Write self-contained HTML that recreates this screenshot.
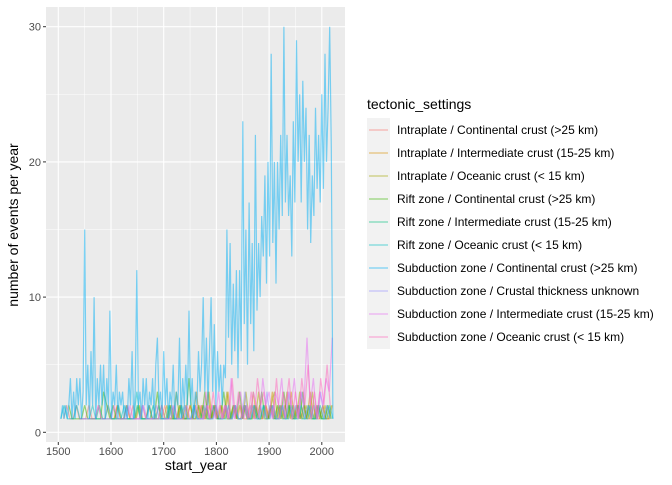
<!DOCTYPE html>
<html><head><meta charset="utf-8"><style>
body{margin:0;background:#fff;font-family:"Liberation Sans",sans-serif}
svg text{font-family:"Liberation Sans",sans-serif}
</style></head><body>
<svg id="chart" width="672" height="480" viewBox="0 0 672 480" xmlns="http://www.w3.org/2000/svg">
<rect x="46" y="7" width="299" height="435" fill="#ebebeb"/>
<g id="grid"></g><g id="series"></g><g id="axes"></g><g id="legend"></g>
</svg>
<script>
const NS="http://www.w3.org/2000/svg";
const xTicks=[1500,1600,1700,1800,1900,2000];
const yTicks=[0,10,20,30];
const seriesNames=["Intraplate / Continental crust (>25 km)","Intraplate / Intermediate crust (15-25 km)","Intraplate / Oceanic crust (< 15 km)","Rift zone / Continental crust (>25 km)","Rift zone / Intermediate crust (15-25 km)","Rift zone / Oceanic crust (< 15 km)","Subduction zone / Continental crust (>25 km)","Subduction zone / Crustal thickness unknown","Subduction zone / Intermediate crust (15-25 km)","Subduction zone / Oceanic crust (< 15 km)"];
const seriesColors=["#F8766D","#D89000","#A3A500","#39B600","#00BF7D","#00BFC4","#00B0F6","#9590FF","#E76BF3","#FF62BC"];
// main series: Subduction zone / Continental crust, years 1505 step 3
const mainStart=1505, mainStep=3;
const mainValues=[1,2,1,2,1,2,4,1,3,1,4,2,4,1,3,15,2,5,1,6,2,10,1,4,2,5,2,5,1,4,2,9,1,3,2,5,1,3,2,3,1,2,1,4,2,6,1,3,12,2,3,1,4,2,4,1,3,2,4,1,5,7,2,3,1,6,2,4,1,3,2,5,1,3,2,7,1,4,2,5,2,9,2,4,1,3,2,6,3,5,10,3,7,2,6,10,3,8,2,6,3,5,2,5,4,15,7,14,5,11,6,12,4,12,6,23,8,15,5,17,8,14,6,22,9,14,10,16,13,19,11,20,13,28,14,20,11,20,15,22,16,30,17,22,16,19,13,23,17,29,20,25,17,26,20,24,15,22,14,19,16,24,18,22,17,25,18,28,20,24,30,21];
const mainTailYears=[2019,2021];
const mainTailValues=[15,1];
// minor series (step 6 years from their start)
const minorStarts=[1510,1600,1700,1520,1560,1505,null,1620,1540,1770];
const minorValues=[
 [1,2,1,1,2,1,1,1,2,1,1,2,1,1,2,1,1,2,1,1,2,1,2,1,1,2,1,2,1,1,2,1,2,1,1,2,1,2,1,1,2,1,1,2,1,1,2,1,2,1,1,2,1,1,2,1,2,1,1,2,1,2,1,1,2,1,2,1,1,2,1,2,1,1,2,1,2,1,1,2,1,1,2,1,1],
 [1,1,2,1,1,2,1,1,1,2,1,1,2,1,1,1,2,1,1,2,1,1,2,1,1,2,1,3,1,2,1,3,1,2,1,2,1,3,1,2,1,1,2,1,1,3,1,2,1,2,1,3,1,2,1,2,1,3,1,2,1,2,1,3,1,2,1,2,1,1,2],
 [1,2,1,1,3,1,1,2,1,1,2,1,2,1,3,1,2,1,2,1,3,1,2,1,2,1,3,1,2,1,3,1,2,1,2,3,1,2,1,3,1,2,1,3,1,2,1,3,1,2,1,2,1,2,1,2],
 [2,1,1,1,1,2,1,1,1,1,1,3,2,1,2,1,1,1,1,1,1,1,2,1,1,1,1,1,3,1,1,1,2,1,1,2,1,1,4,1,1,2,1,3,1,1,2,1,1,3,1,1,2,1,3,1,2,1,1,2,1,3,1,1,2,1,2,1,3,1,2,1,2,1,3,1,2,1,1,2,1,1,2,1,1,2],
 [1,1,1,2,1,1,1,1,1,2,1,1,1,1,1,2,1,1,1,1,2,1,1,1,1,2,1,1,1,2,1,1,1,2,1,1,2,1,1,2,1,1,1,2,1,1,2,1,1,2,1,1,2,1,1,2,1,2,1,1,2,1,1,2,1,1,2,1,1,2,1,1,2,1,1,2,1,1],
 [1,2,1,1,1,2,1,1,1,1,2,1,1,1,1,2,1,1,1,1,2,1,1,1,3,1,1,1,2,1,1,2,1,1,1,2,1,1,1,2,1,1,2,1,1,1,2,1,1,2,1,1,1,2,1,2,1,1,2,1,1,2,1,1,2,1,1,2,1,1,2,1,1,2,1,1,2,1,1,2,1,1,2,1,1,2,1],
 null,
 [1,1,2,1,1,1,1,2,1,1,1,2,1,1,1,1,2,1,1,1,2,1,1,2,1,1,1,2,1,1,2,1,1,2,1,1,2,1,1,3,1,2,1,1,2,1,3,1,2,1,1,2,1,3,1,2,1,3,1,2,1,2,1,3,1,2,1],
 [1,1,1,1,1,1,2,1,1,1,1,2,1,1,1,1,2,1,1,1,2,1,1,1,1,1,2,1,1,1,2,1,1,1,2,1,1,2,1,1,3,1,2,1,3,1,2,1,4,1,2,3,1,2,1,3,2,1,4,2,3,1,3,2,4,1,3,2,4,1,3,2,7,2,4,1,3,2,4,3,7,2,4,1],
 [2,1,2,1,3,1,2,1,2,1,4,1,3,1,2,1,3,1,4,2,3,1,2,1,4,1,3,2,4,1,3,1,4,2,5,1,3,1,4,2,5,2,3,1,5,2,4]
];
const x=v=>58.3+(v-1500)*0.527;
const y=v=>432.3-v*13.52;
function mk(tag,attrs,parent){const e=document.createElementNS(NS,tag);for(const k in attrs)e.setAttribute(k,attrs[k]);parent.appendChild(e);return e;}
const grid=document.getElementById('grid'),axes=document.getElementById('axes'),ser=document.getElementById('series'),leg=document.getElementById('legend');
[1550,1650,1750,1850,1950].forEach(t=>{const l=mk('line',{x1:x(t),x2:x(t),y1:7,y2:442,stroke:'#fff','stroke-width':0.5},grid);});
[5,15,25].forEach(t=>{const l=mk('line',{x1:46,x2:345,y1:y(t),y2:y(t),stroke:'#fff','stroke-width':0.5},grid);});
xTicks.forEach(t=>{const l=mk('line',{x1:x(t),x2:x(t),y1:7,y2:442,stroke:'#fff','stroke-width':1.1},grid);
 const k=mk('line',{x1:x(t),x2:x(t),y1:442,y2:445,stroke:'#333'},axes);
 const tx=mk('text',{x:x(t),y:455,'text-anchor':'middle','font-size':11,fill:'#4d4d4d'},axes);tx.textContent=t;});
yTicks.forEach(t=>{const l=mk('line',{x1:46,x2:345,y1:y(t),y2:y(t),stroke:'#fff','stroke-width':1.1},grid);
 const k=mk('line',{x1:43,x2:46,y1:y(t),y2:y(t),stroke:'#333'},axes);
 const tx=mk('text',{x:41,y:y(t)+4,'text-anchor':'end','font-size':11,fill:'#4d4d4d'},axes);tx.textContent=t;});
let t1=mk('text',{x:196,y:470,'text-anchor':'middle','font-size':14,fill:'#000'},axes);t1.textContent='start_year';
let t2=mk('text',{x:0,y:0,'text-anchor':'middle','font-size':14,fill:'#000',transform:'translate(18,225) rotate(-90)'},axes);t2.textContent='number of events per year';
function drawLine(pts,color,name){const p=mk('polyline',{points:pts.map(q=>x(q[0]).toFixed(1)+','+y(q[1]).toFixed(1)).join(' '),fill:'none',stroke:color,'stroke-width':1.2,'stroke-opacity':0.5},ser);}
minorValues.forEach((vals,i)=>{if(!vals)return;const pts=vals.map((v,j)=>[minorStarts[i]+j*6,v]).filter(q=>q[0]<=2021);drawLine(pts,seriesColors[i],'series-line-'+(i+1));});
const mpts=mainValues.map((v,j)=>[mainStart+j*mainStep,v]);mainTailYears.forEach((yr,j)=>mpts.push([yr,mainTailValues[j]]));
drawLine(mpts,seriesColors[6],'series-subduction-continental');
let lt=mk('text',{x:367,y:109,'font-size':14,fill:'#000'},leg);lt.textContent='tectonic_settings';
let lb=mk('rect',{x:367,y:118,width:23,height:231,fill:'#f2f2f2'},leg);
seriesNames.forEach((n,i)=>{const cy=130+i*23;const g=mk('g',{},leg);
 mk('line',{x1:369,x2:388,y1:cy,y2:cy,stroke:seriesColors[i],'stroke-width':1.2,'stroke-opacity':0.5},g);
 const tx=mk('text',{x:397,y:cy+4,'font-size':12,fill:'#000'},g);tx.textContent=n;});
</script>
</body></html>
